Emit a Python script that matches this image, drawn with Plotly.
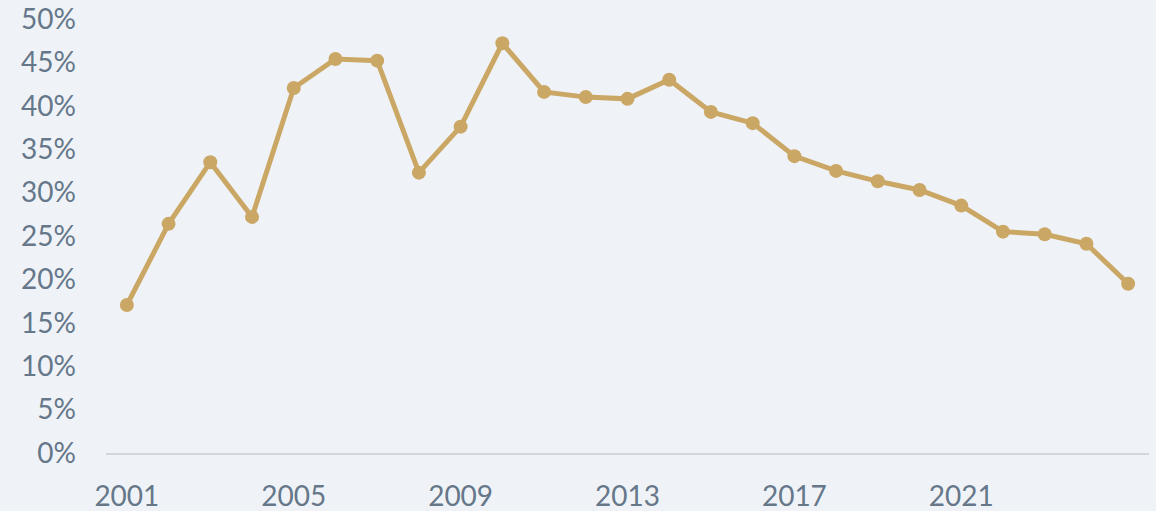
import plotly.graph_objects as go

years = list(range(2001, 2026))
values = [17.05, 26.4, 33.5, 27.2, 42.05, 45.4, 45.2, 32.3, 37.6, 47.2,
          41.6, 41.0, 40.8, 43.0, 39.3, 38.0, 34.2, 32.5, 31.3, 30.3,
          28.5, 25.5, 25.2, 24.1, 19.5]
x_tick_years = [2001, 2005, 2009, 2013, 2017, 2021]
y_ticks = list(range(0, 51, 5))
y_tick_labels = [f"{v}%" for v in y_ticks]

bg = "#EFF3F8"
gold = "#CBA765"
txt = "#66778A"
font_family = "Lato, 'Open Sans', sans-serif"

fig = go.Figure()
fig.add_trace(go.Scatter(
    x=years, y=values, mode="lines+markers",
    line=dict(color=gold, width=5),
    marker=dict(color=gold, size=14),
    hoverinfo="skip",
))

fig.update_layout(
    width=1156, height=511,
    paper_bgcolor=bg, plot_bgcolor=bg,
    margin=dict(l=106, r=7, t=19, b=58),
    showlegend=False,
    font=dict(family=font_family, size=28, color=txt),
)
fig.update_xaxes(
    range=[2000.5, 2025.5],
    tickvals=x_tick_years, ticktext=[str(y) for y in x_tick_years],
    showgrid=False, zeroline=False,
    showline=True, linecolor="#D3D7DC", linewidth=2,
    ticks="", ticklabelstandoff=17, automargin=False,
    tickfont=dict(family=font_family, size=28, color=txt),
)
fig.update_yaxes(
    range=[0, 50],
    tickvals=y_ticks, ticktext=y_tick_labels,
    showgrid=False, zeroline=False, showline=False,
    ticks="", ticklabelstandoff=29, automargin=False,
    tickfont=dict(family=font_family, size=28, color=txt),
)

fig.write_html(
    "out.html",
    config={"displayModeBar": False},
    post_script="document.body.style.margin='0';document.body.style.background='" + bg + "';",
)
